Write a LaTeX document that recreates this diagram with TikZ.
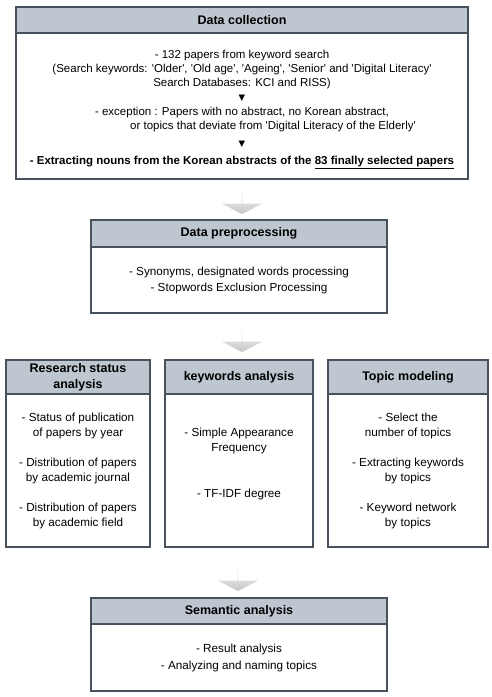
\documentclass[tikz,border=0pt]{standalone}
\usepackage{fontspec}
\setmainfont{Liberation Sans}
\newfontfamily\symfont{DejaVu Sans}
\usetikzlibrary{positioning,shapes.arrows,calc}
\definecolor{headgray}{RGB}{190,198,207}
\definecolor{edgegray}{RGB}{72,82,92}
\newcommand{\sq}[1]{\textquotesingle#1\textquotesingle}
\newcommand{\downmark}{{\symfont\fontsize{8.5}{14}\selectfont ▼}}

\begin{document}
\begin{tikzpicture}[x=1pt, y=-1pt,
    head/.style={rectangle, draw=edgegray, line width=1.1pt, fill=headgray,
                 inner sep=0pt, outer sep=0pt, anchor=north west, align=center,
                 font=\bfseries\fontsize{12.5}{16}\selectfont},
    body/.style={rectangle, draw=edgegray, line width=1.1pt, fill=white,
                 inner sep=0pt, outer sep=0pt, align=center,
                 font=\fontsize{11.7}{15}\selectfont},
    flow/.style={single arrow, shape border rotate=270, draw=none,
                 top color=gray!8, bottom color=gray!45, inner sep=0pt,
                 minimum height=22pt, minimum width=40pt,
                 single arrow head extend=10pt, single arrow tip angle=125}]

    \useasboundingbox (0,0) rectangle (492,697);

    % Data collection
    \node[head, minimum width=452pt, minimum height=26pt] (collecthead) at (16,7) {Data collection};
    \node[body, minimum width=452pt, minimum height=146pt, below=0pt of collecthead,
          font=\fontsize{11.5}{14}\selectfont] (collect)
        {\mbox{}\\[2pt]
         - 132 papers from keyword search\\
         (Search keywords: \sq{Older}, \sq{Old age}, \sq{Ageing}, \sq{Senior} and \sq{Digital Literacy}\\
         Search Databases: KCI and RISS)\\[0pt]
         \downmark\\[1pt]
         - exception : Papers with no abstract, no Korean abstract,\\
         \hspace*{62pt}or topics that deviate from \sq{Digital Literacy of the Elderly}\\[3pt]
         \downmark\\[4pt]
         \textbf{- Extracting nouns from the Korean abstracts of the \underline{83 finally selected papers}}};

    % Data preprocessing
    \node[head, minimum width=296pt, minimum height=27pt] (prephead) at (91,220) {Data preprocessing};
    \node[body, minimum width=296pt, minimum height=66pt, below=0pt of prephead,
          font=\fontsize{11.7}{16}\selectfont] (prep)
        {- Synonyms, designated words processing\\- Stopwords Exclusion Processing};

    % Analysis boxes
    \node[head, minimum width=144pt, minimum height=34pt] (statushead) at (6,360) {Research status\\analysis};
    \node[body, minimum width=144pt, minimum height=153pt, below=0pt of statushead] (status)
        {- Status of publication\\of papers by year\\[15pt]
         - Distribution of papers\\by academic journal\\[15pt]
         - Distribution of papers\\by academic field};

    \node[head, minimum width=148pt, minimum height=34pt] (keyhead) at (165,360) {keywords analysis};
    \node[body, minimum width=148pt, minimum height=153pt, below=0pt of keyhead] (key)
        {- Simple Appearance\\Frequency\\[31pt]
         - TF-IDF degree\\[1pt]\mbox{}};

    \node[head, minimum width=160pt, minimum height=34pt] (topichead) at (328,360) {Topic modeling};
    \node[body, minimum width=160pt, minimum height=153pt, below=0pt of topichead] (topic)
        {- Select the\\number of topics\\[15pt]
         - Extracting keywords\\by topics\\[15pt]
         - Keyword network\\by topics};

    % Semantic analysis
    \node[head, minimum width=296pt, minimum height=26pt] (semhead) at (91,598) {Semantic analysis};
    \node[body, minimum width=296pt, minimum height=67pt, below=0pt of semhead,
          font=\fontsize{11.7}{17}\selectfont] (sem)
        {- Result analysis\\- Analyzing and naming topics};

    % Flow arrows
    \node[flow] (flow1) at (242,203) {};
    \node[flow] (flow2) at (242,341) {};
    \node[flow] (flow3) at (238,580) {};
\end{tikzpicture}
\end{document}
